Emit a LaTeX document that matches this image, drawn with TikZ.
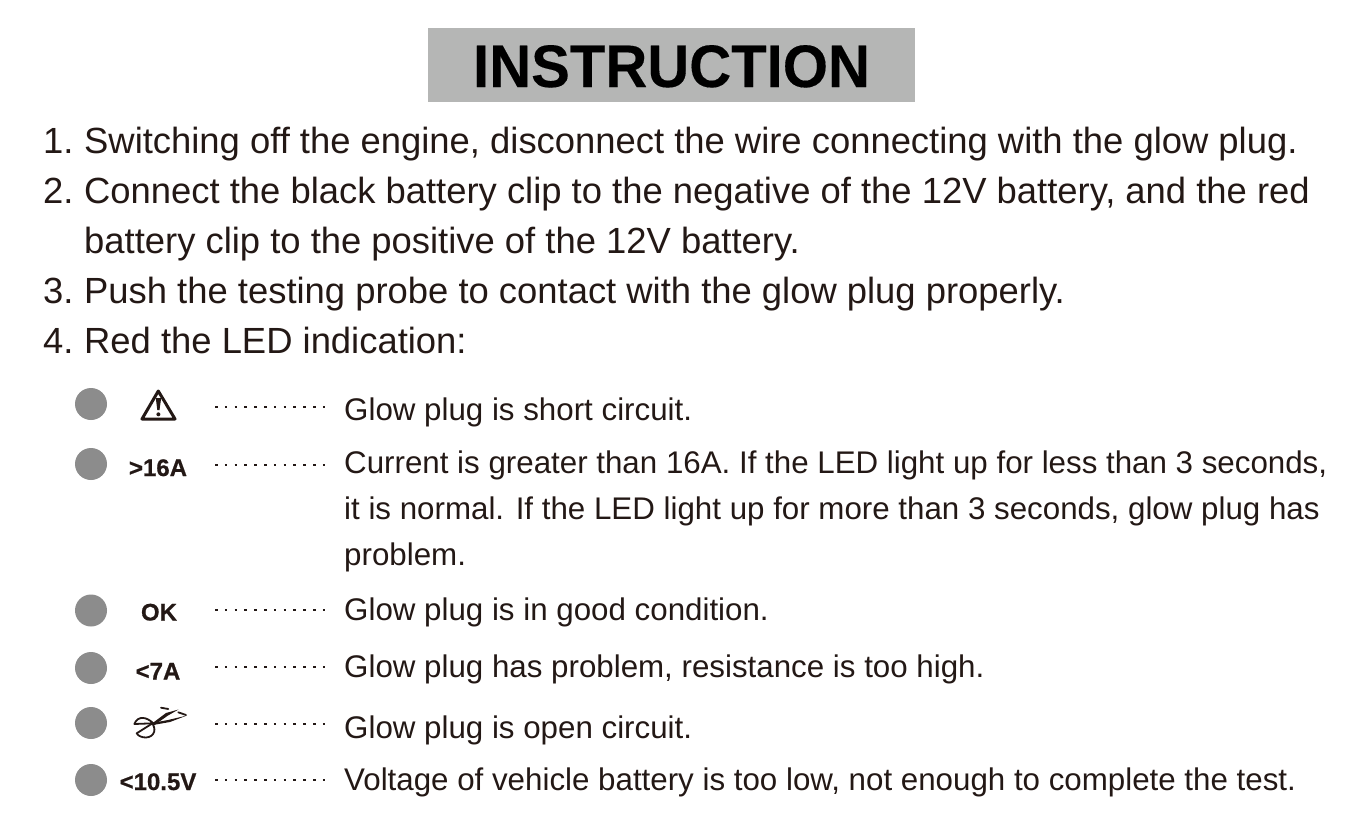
\documentclass[tikz,border=0pt]{standalone}
\usepackage{fontspec}
\setmainfont{Liberation Sans}
\newfontfamily\heavyfont{Liberation Sans Bold}[FakeBold=0.6]
\newfontfamily\titlefont{Liberation Sans Bold}[FakeBold=0.2]
\definecolor{inktext}{HTML}{231815}
\definecolor{banner}{HTML}{B5B6B5}
\definecolor{led}{HTML}{8C8C8C}
\tikzset{
	stepline/.style={anchor=base west,inner sep=0pt,text=inktext,font=\fontsize{36.4}{36.4}\selectfont},
	rowline/.style={anchor=base west,inner sep=0pt,text=inktext,font=\fontsize{31.3}{31.3}\selectfont},
	rowtag/.style={anchor=base,inner sep=0pt,text=inktext,font=\fontsize{24}{24}\selectfont\heavyfont},
	leadin/.style={inktext,line width=2.8pt,dash pattern=on 2.6pt off 7.2pt},
	icon/.style={inktext,line width=1.8pt,line join=round,line cap=round}
}
\begin{document}
\begin{tikzpicture}[x=1pt,y=-1pt]
	\useasboundingbox (0,0) rectangle (1354,827);
	\node[fill=banner,minimum width=487pt,minimum height=74pt,inner sep=0pt] (title) at (671.5,64.5) {};
	\node[anchor=base,inner sep=0pt,font=\fontsize{60}{60}\selectfont\titlefont] (titletext) at (671.5,87) {\scalebox{.968}[1]{INSTRUCTION}};

	% numbered steps
	\foreach \n/\x/\y/\t in
	{a/43/153/1., b/43/203/2., c/43/303/3., d/43/353/4.}{
		\node[stepline] (num\n) at (\x,\y) {\t};
	}
	\foreach \n/\y/\t in
	{a/153/{Switching off the engine, disconnect the wire connecting with the glow plug.},
	b/203/{Connect the black battery clip to the negative of the 12V battery, and the red},
	e/253/{battery clip to the positive of the 12V battery.},
	c/303/{Push the testing probe to contact with the glow plug properly.},
	d/353/{Red the LED indication:}}{
		\node[stepline] (step\n) at (84,\y) {\t};
	}

	% LED rows
	\foreach \n/\y in
	{a/404, b/464, c/610.5, d/668, e/723, f/780}{
		\fill[led] (91,\y) circle (16) coordinate (led\n);
	}
	\foreach \n/\y in
	{a/407, b/465, c/610, d/667, e/724, f/780}{
		\coordinate (from\n) at (215,\y);
		\coordinate (to\n) at (326,\y);
		\draw[leadin] (from\n)--(to\n);
	}
	\node[rowtag] (tagb) at (158,476) {>16A};
	\node[rowtag] (tagc) at (159,620.5) {OK};
	\node[rowtag] (tagd) at (158,679.5) {<7A};
	\node[rowtag] (tagf) at (158,790) {<10.5V};

	\foreach \n/\y/\t in
	{a/420/{Glow plug is short circuit.},
	b/473/{Current is greater than 16A. If the LED light up for less than 3 seconds,},
	g/519/{it is normal. If the LED light up for more than 3 seconds, glow plug has},
	h/565/{problem.},
	c/620/{Glow plug is in good condition.},
	d/677/{Glow plug has problem, resistance is too high.},
	e/738/{Glow plug is open circuit.},
	f/790/{Voltage of vehicle battery is too low, not enough to complete the test.}}{
		\node[rowline] (row\n) at (344,\y) {\t};
	}

	% warning sign
	\draw[icon,line width=3pt] (158.3,391)--(142,419)--(175,419)--cycle;
	\fill[inktext] (155.8,398)--(161.2,398)--(159.5,410)--(157.3,410)--cycle;
	\fill[inktext] (158.4,414.3) circle (2);

	% scissors
	\draw[icon] (153.3,723.3) .. controls (147,717) and (138,715) .. (134.3,724) -- (153.3,723.3);
	\draw[icon] (151,722) .. controls (157,728) and (155,737) .. (146,737.5) .. controls (142,737.5) and (138,736) .. (136.7,733.3) -- (153,723);
	\fill[inktext] (152,723.5)--(166,713)--(178.5,709.5)--(168,715.5)--(154.5,725)--cycle;
	\fill[inktext] (152,723)--(168,720)--(187,715.5)--(170,722)--(153,725)--cycle;
	\draw[icon] (161,707.7)--(168.3,709);
	\draw[icon] (178.3,712.3)--(186,715);
\end{tikzpicture}
\end{document}
